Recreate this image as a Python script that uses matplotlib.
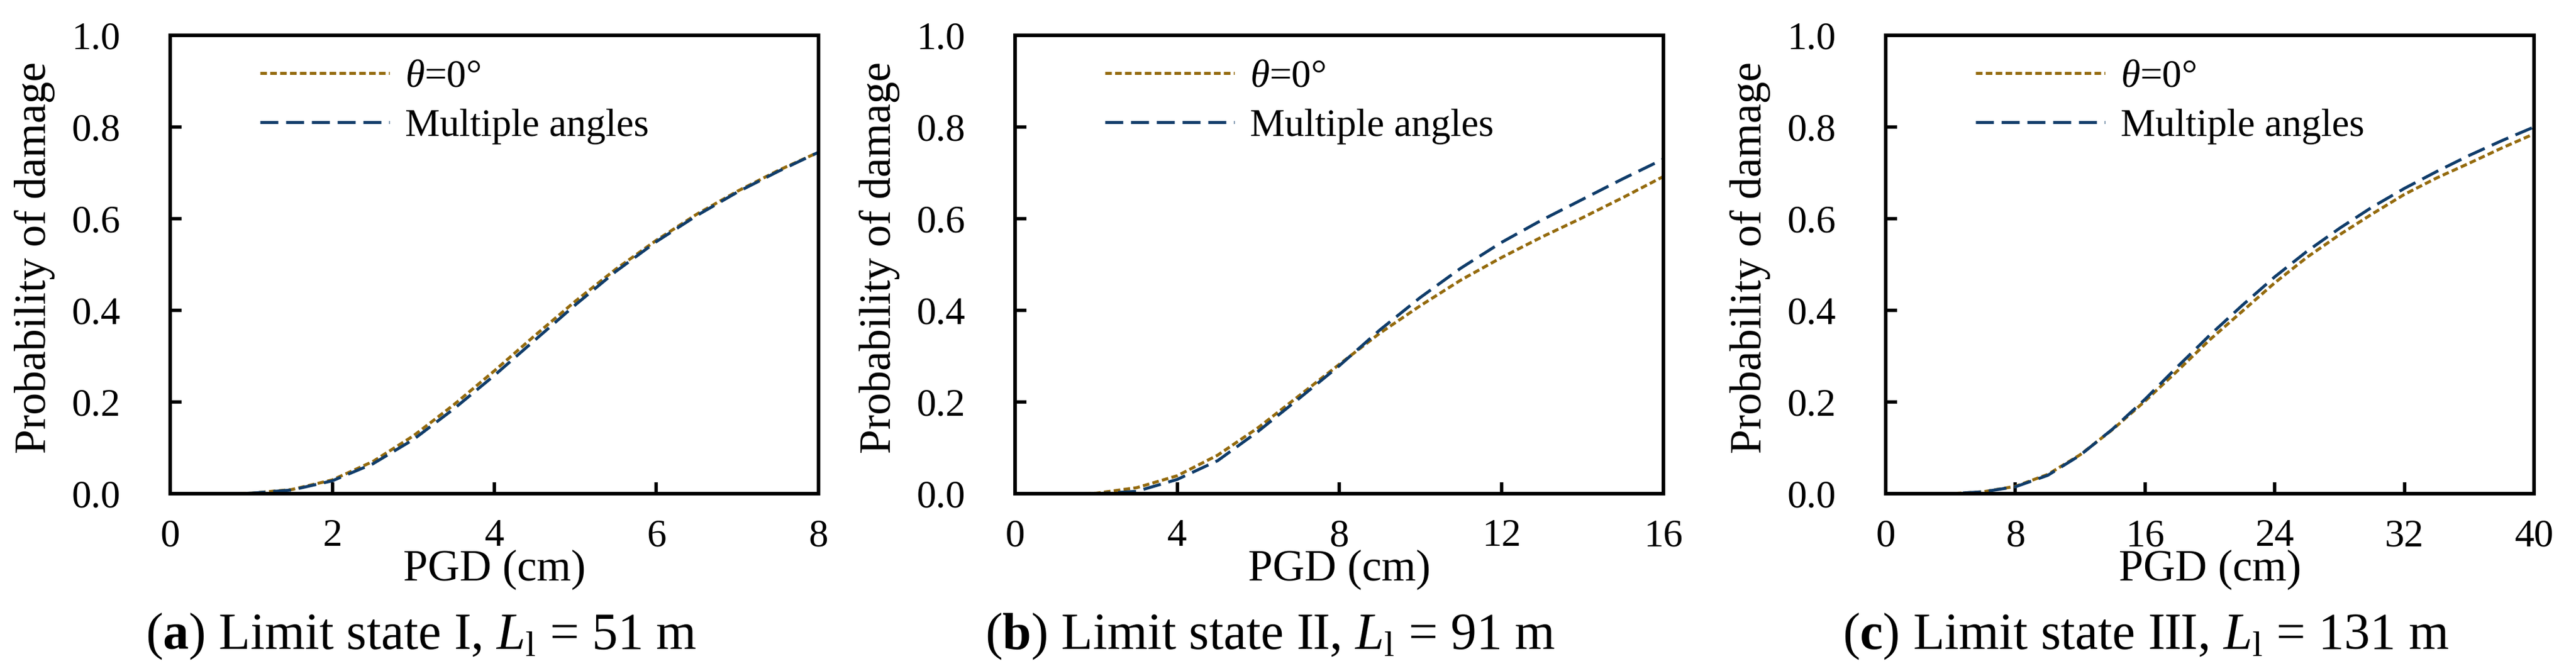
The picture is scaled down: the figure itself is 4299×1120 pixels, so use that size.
import matplotlib
matplotlib.use("Agg")
import matplotlib.pyplot as plt
from matplotlib.ticker import FormatStrFormatter

plt.rcParams['font.family'] = ['Liberation Serif', 'DejaVu Serif']
plt.rcParams['mathtext.fontset'] = 'custom'
plt.rcParams['mathtext.rm'] = 'Liberation Serif'
plt.rcParams['mathtext.it'] = 'Liberation Serif:italic'
plt.rcParams['mathtext.bf'] = 'Liberation Serif:bold'

# data
x_a = [0, 0.5, 1, 1.5, 2, 2.5, 3, 3.5, 4, 4.5, 5, 5.5, 6, 6.5, 7, 7.5, 8]
theta_a = [0, 0, 0.001, 0.009, 0.030, 0.070, 0.126, 0.194, 0.268, 0.345, 0.420,
           0.490, 0.553, 0.610, 0.660, 0.705, 0.745]
multi_a = [0, 0, 0.001, 0.008, 0.028, 0.065, 0.118, 0.185, 0.258, 0.335, 0.412,
           0.485, 0.550, 0.607, 0.658, 0.703, 0.745]

x_b = [0, 1, 2, 3, 4, 5, 6, 7, 8, 9, 10, 11, 12, 13, 14, 15, 16]
theta_b = [0, 0, 0.001, 0.013, 0.039, 0.084, 0.144, 0.213, 0.282, 0.350, 0.410,
           0.466, 0.515, 0.560, 0.602, 0.646, 0.692]
multi_b = [0, 0, 0, 0.005, 0.031, 0.072, 0.136, 0.207, 0.279, 0.357, 0.428,
           0.492, 0.548, 0.597, 0.642, 0.687, 0.730]

x_c = [0, 2, 4, 6, 8, 10, 12, 14, 16, 18, 20, 22, 24, 26, 28, 30, 32, 34, 36, 38, 40]
theta_c = [0, 0, 0, 0.004, 0.016, 0.042, 0.085, 0.140, 0.202, 0.268, 0.336, 0.398,
           0.460, 0.516, 0.565, 0.610, 0.653, 0.689, 0.721, 0.754, 0.785]
multi_c = [0, 0, 0, 0.004, 0.015, 0.040, 0.084, 0.141, 0.206, 0.277, 0.346, 0.411,
           0.473, 0.529, 0.579, 0.625, 0.666, 0.703, 0.738, 0.770, 0.800]

xticks = [[0, 2, 4, 6, 8], [0, 4, 8, 12, 16], [0, 8, 16, 24, 32, 40]]
captions = [r'($\mathbf{a}$) Limit state I, $L_{\mathrm{l}}$ = 51 m',
            r'($\mathbf{b}$) Limit state II, $L_{\mathrm{l}}$ = 91 m',
            r'($\mathbf{c}$) Limit state III, $L_{\mathrm{l}}$ = 131 m']
labels = [r'$\theta$=0°', 'Multiple angles']

c_theta = '#946A0C'
c_multi = '#0F3C6A'

W, H = 4299, 1120
fig = plt.figure(figsize=(W / 100, H / 100), dpi=100)

lefts = [284, 1694, 3147]
cap_x = [703, 2120, 3581]
data = [(x_a, theta_a, multi_a), (x_b, theta_b, multi_b), (x_c, theta_c, multi_c)]

for i in range(3):
    ax = fig.add_axes([lefts[i] / W, (H - 824) / H, 1082 / W, 765 / H])
    x, th, mu = data[i]
    ax.plot(x, th, color=c_theta, lw=3.6, dashes=(2.2, 1.1), dash_capstyle='butt', label=labels[0])
    ax.plot(x, mu, color=c_multi, lw=3.6, dashes=(6, 2.6), dash_capstyle='butt', label=labels[1])
    ax.set_xlim(xticks[i][0], xticks[i][-1])
    ax.set_ylim(0, 1)
    ax.set_xticks(xticks[i])
    ax.set_yticks([0, 0.2, 0.4, 0.6, 0.8, 1.0])
    ax.yaxis.set_major_formatter(FormatStrFormatter('%.1f'))
    ax.tick_params(direction='in', length=14, width=4, labelsize=47, top=False, right=False)
    ax.tick_params(axis='y', pad=60)
    ax.tick_params(axis='x', pad=30)
    for s in ax.spines.values():
        s.set_linewidth(4.3)
    ax.set_xlabel('PGD (cm)', fontsize=53)
    ax.xaxis.set_label_coords(0.5, -0.122)
    ax.set_ylabel('Probability of damage', fontsize=53)
    ax.yaxis.set_label_coords(-0.177, 0.515)
    ax.legend(loc='upper left', bbox_to_anchor=(0.139, 0.948), frameon=False, fontsize=47,
              handlelength=3.3, handletextpad=0.4, labelspacing=0.35, borderpad=0, borderaxespad=0)
    fig.text(cap_x[i] / W, (H - 1083) / H, captions[i], fontsize=62, ha='center', va='baseline')

fig.savefig('out.png', dpi=100)
